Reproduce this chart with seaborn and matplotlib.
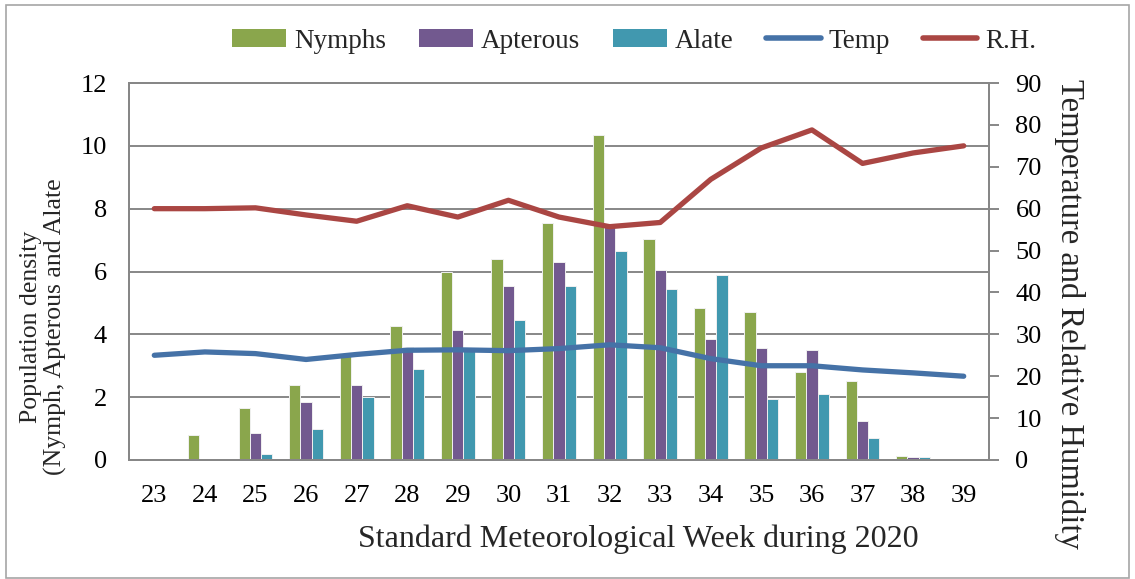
import matplotlib
matplotlib.use("Agg")
import matplotlib.pyplot as plt
import seaborn as sns
import pandas as pd
import numpy as np
from matplotlib.patches import Patch, Rectangle
from matplotlib.lines import Line2D

weeks = ["23", "24", "25", "26", "27", "28", "29", "30", "31", "32", "33", "34", "35", "36", "37", "38", "39"]
nymphs = [0, 0.8, 1.65, 2.4, 3.3, 4.25, 6.0, 6.4, 7.55, 10.35, 7.05, 4.85, 4.7, 2.8, 2.5, 0.12, 0]
apterous = [0, 0, 0.85, 1.85, 2.4, 3.6, 4.15, 5.55, 6.3, 7.45, 6.05, 3.85, 3.55, 3.5, 1.25, 0.08, 0]
alate = [0, 0, 0.2, 1.0, 2.0, 2.9, 3.5, 4.45, 5.55, 6.65, 5.45, 5.9, 1.95, 2.1, 0.7, 0.08, 0]
temp = [25.0, 25.8, 25.4, 24.0, 25.2, 26.2, 26.3, 26.1, 26.6, 27.5, 26.8, 24.2, 22.5, 22.5, 21.5, 20.8, 20.0]
rh = [60.0, 60.0, 60.2, 58.5, 57.0, 60.7, 58.0, 62.0, 58.0, 55.7, 56.7, 67.0, 74.5, 78.8, 70.8, 73.3, 75.0]

stages = ["Nymphs", "Apterous", "Alate"]
colors = {"Nymphs": "#8AA64C", "Apterous": "#72598F", "Alate": "#4198AF"}
temp_color = "#4572A7"
rh_color = "#AA4643"
grid_color = "#878787"

df = pd.DataFrame({
    "week": weeks * 3,
    "stage": ["Nymphs"] * len(weeks) + ["Apterous"] * len(weeks) + ["Alate"] * len(weeks),
    "value": nymphs + apterous + alate,
})

sns.set_theme(style="white")
plt.rcParams["font.family"] = ["Liberation Serif", "DejaVu Serif"]

fig = plt.figure(figsize=(11.35, 5.79), dpi=100)
ax = fig.add_axes([129 / 1135, 1 - 460 / 579, 860 / 1135, 377 / 579])

sns.barplot(data=df, x="week", y="value", hue="stage", hue_order=stages,
            palette=colors, order=weeks, width=0.67, gap=0, ax=ax,
            edgecolor="#f0f0f0", linewidth=0.7, legend=False, saturation=1)

ax2 = ax.twinx()
sns.pointplot(x=weeks, y=temp, order=weeks, ax=ax2, color=temp_color, markers="",
              linestyles="-", errorbar=None, linewidth=3.8, solid_capstyle="round")
sns.pointplot(x=weeks, y=rh, order=weeks, ax=ax2, color=rh_color, markers="",
              linestyles="-", errorbar=None, linewidth=3.8, solid_capstyle="round")

ax.set_xlim(-0.5, len(weeks) - 0.5)
ax.set_ylim(0, 12)
ax.set_yticks(np.arange(0, 13, 2))
ax2.set_ylim(0, 90)
ax2.set_yticks(np.arange(0, 91, 10))

ax.set_axisbelow(True)
ax.yaxis.grid(True, color=grid_color, linewidth=1.4)
ax.xaxis.grid(False)
ax2.grid(False)

for a in (ax, ax2):
    for s in a.spines.values():
        s.set_color(grid_color)
        s.set_linewidth(1.4)

ax.tick_params(axis="y", length=0, pad=16, labelsize=19, colors="black")
ax.tick_params(axis="x", length=0, pad=18, labelsize=19, colors="black")
ax2.tick_params(axis="y", length=7, width=1.4, color=grid_color, direction="out",
                pad=12, labelsize=19, labelcolor="black")

ax.set_xlabel("Standard Meteorological Week during 2020", fontsize=23)
ax.xaxis.set_label_coords(0.592, -0.172)
ax.set_ylabel("Population density\n(Nymph, Apterous and Alate", fontsize=18.5,
              va="center", ha="center", multialignment="center", linespacing=1.1)
ax.yaxis.set_label_coords(-0.099, 0.353)
ax2.set_ylabel("Temperature and Relative Humidity", fontsize=23.5, rotation=270,
               va="center", ha="center")
ax2.yaxis.set_label_coords(1.094, 0.387)

handles = [Patch(facecolor=colors[s], edgecolor="none") for s in stages] + [
    Line2D([0], [0], color=temp_color, lw=4, solid_capstyle="round"),
    Line2D([0], [0], color=rh_color, lw=4, solid_capstyle="round"),
]
labels = stages + ["Temp", "R.H."]
fig.legend(handles, labels, loc="center", bbox_to_anchor=(634 / 1135, 1 - 41 / 579), ncol=5,
           frameon=False, fontsize=19.5, handlelength=2.0, handleheight=0.65,
           handletextpad=0.3, columnspacing=1.2, borderaxespad=0)

fig.patches.append(Rectangle((6 / 1135, 1 / 579), 1 - 12 / 1135, 1 - 6 / 579,
                             transform=fig.transFigure, fill=False,
                             edgecolor="#a6a6a6", linewidth=1.2))

fig.savefig("out.png", dpi=100)
